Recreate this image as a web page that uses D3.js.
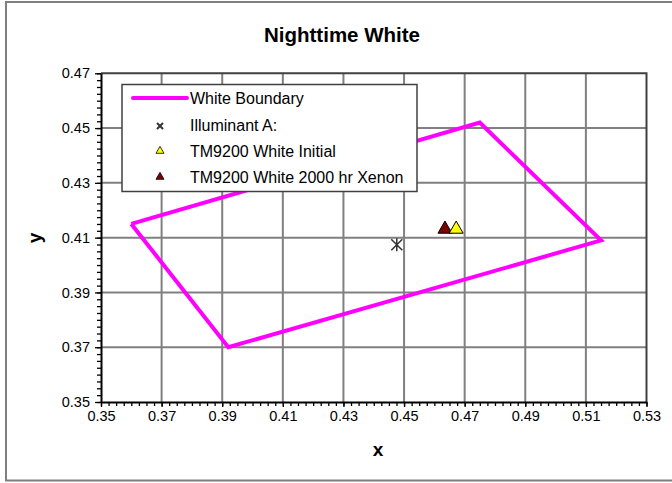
<!DOCTYPE html>
<html>
<head>
<meta charset="utf-8">
<script src="https://cdn.jsdelivr.net/npm/d3@7"></script>
<style>
    body { margin: 0; background: #fff; }
    text { font-family: "Liberation Sans", Arial, sans-serif; }
    .title, .axisTitle { font-weight: bold; }
</style>
</head>
<body>
<div id="chart"></div>
<script>
// boundary polygon (closed)
const boundaryX = [0.360, 0.475, 0.515, 0.392, 0.360];
const boundaryY = [0.415, 0.452, 0.409, 0.370, 0.415];

const illuminantX = [0.4476];
const illuminantY = [0.4074];

const initialX = [0.4672];
const initialY = [0.4131];

const xenonX = [0.4635];
const xenonY = [0.4131];

const xTicks = [0.35, 0.37, 0.39, 0.41, 0.43, 0.45, 0.47, 0.49, 0.51, 0.53];
const yTicks = [0.35, 0.37, 0.39, 0.41, 0.43, 0.45, 0.47];

const legendLabels = ['White Boundary', 'Illuminant A:', 'TM9200 White Initial', 'TM9200 White 2000 hr Xenon'];

var width = 672, height = 483;
var plotL = 101, plotR = 646.5, plotT = 73.3, plotB = 402;

var svg = d3.select('#chart').append('svg')
    .attr('width', width)
    .attr('height', height);

// outer frame
svg.append('rect')
    .attr('x', 6).attr('y', 2)
    .attr('width', 670).attr('height', 478.5)
    .attr('fill', 'none')
    .attr('stroke', '#7f7f7f')
    .attr('stroke-width', 2);

var x = d3.scaleLinear().domain([0.35, 0.53]).range([plotL, plotR]);
var y = d3.scaleLinear().domain([0.35, 0.47]).range([plotB, plotT]);

// gridlines
svg.append('g').selectAll('line').data(xTicks.slice(1, -1)).join('line')
    .attr('x1', d => x(d)).attr('x2', d => x(d))
    .attr('y1', plotT).attr('y2', plotB)
    .attr('stroke', '#808080').attr('stroke-width', 2);
svg.append('g').selectAll('line').data(yTicks.slice(1, -1)).join('line')
    .attr('x1', plotL).attr('x2', plotR)
    .attr('y1', d => y(d)).attr('y2', d => y(d))
    .attr('stroke', '#808080').attr('stroke-width', 2);

// plot border top/right
svg.append('path')
    .attr('d', `M${plotL},${plotT}H${plotR}V${plotB}`)
    .attr('fill', 'none')
    .attr('stroke', '#404040')
    .attr('stroke-width', 2);

// minor ticks every 0.0025
var minorX = d3.range(0, 73).map(i => 0.35 + i * 0.0025);
var minorY = d3.range(0, 49).map(i => 0.35 + i * 0.0025);

var xAxis = svg.append('g').attr('transform', `translate(0,${plotB})`);
xAxis.call(d3.axisBottom(x).tickValues(minorX).tickSize(4).tickFormat(''));
xAxis.call(g => g.selectAll('path').remove());
var xMajor = svg.append('g').attr('transform', `translate(0,${plotB})`)
    .call(d3.axisBottom(x).tickValues(xTicks).tickSize(5).tickSizeOuter(0).tickPadding(4).tickFormat(d3.format('.2f')));
xMajor.selectAll('text').attr('font-size', 14.5).attr('fill', '#000')
    .style('font-family', '"Liberation Sans", Arial, sans-serif');

var yAxis = svg.append('g').attr('transform', `translate(${plotL},0)`);
yAxis.call(d3.axisLeft(y).tickValues(minorY).tickSize(4).tickFormat(''));
yAxis.call(g => g.selectAll('path').remove());
var yMajor = svg.append('g').attr('transform', `translate(${plotL},0)`)
    .call(d3.axisLeft(y).tickValues(yTicks).tickSize(6).tickSizeOuter(0).tickPadding(5).tickFormat(d3.format('.2f')));
yMajor.selectAll('text').attr('font-size', 14.5).attr('fill', '#000')
    .style('font-family', '"Liberation Sans", Arial, sans-serif');

svg.selectAll('.domain').attr('stroke', '#000').attr('stroke-width', 2);
svg.selectAll('.tick line').attr('stroke', '#000').attr('stroke-width', 1.3);

// boundary polygon
var line = d3.line().x(d => x(d[0])).y(d => y(d[1]));
svg.append('path')
    .datum(boundaryX.map((v, i) => [v, boundaryY[i]]))
    .attr('d', line)
    .attr('fill', 'none')
    .attr('stroke', '#ff00ff')
    .attr('stroke-width', 4)
    .attr('stroke-linejoin', 'miter');

// markers
function drawStar(g, cx, cy, r) {
    g.append('path')
        .attr('d', `M${cx - r},${cy - r}L${cx + r},${cy + r}M${cx - r},${cy + r}L${cx + r},${cy - r}M${cx},${cy - r * 1.2}V${cy + r * 1.2}`)
        .attr('stroke', '#333')
        .attr('stroke-width', 1.5)
        .attr('fill', 'none');
}
function drawCross(g, cx, cy, r) {
    g.append('path')
        .attr('d', `M${cx - r},${cy - r}L${cx + r},${cy + r}M${cx - r},${cy + r}L${cx + r},${cy - r}`)
        .attr('stroke', '#333')
        .attr('stroke-width', 2)
        .attr('fill', 'none');
}
var tri = d3.symbol().type(d3.symbolTriangle);

var marks = svg.append('g');
illuminantX.forEach((v, i) => drawStar(marks, x(v), y(illuminantY[i]), 5.5));
xenonX.forEach((v, i) => {
    marks.append('path')
        .attr('d', tri.size(85)())
        .attr('transform', `translate(${x(v)},${y(xenonY[i])})`)
        .attr('fill', '#800000').attr('stroke', '#000').attr('stroke-width', 1);
});
initialX.forEach((v, i) => {
    marks.append('path')
        .attr('d', tri.size(85)())
        .attr('transform', `translate(${x(v)},${y(initialY[i])})`)
        .attr('fill', '#ffff00').attr('stroke', '#000').attr('stroke-width', 1);
});

// legend
var legend = svg.append('g');
legend.append('rect')
    .attr('x', 122).attr('y', 84.5)
    .attr('width', 295).attr('height', 107)
    .attr('fill', '#fff')
    .attr('stroke', '#404040')
    .attr('stroke-width', 1.5);

var rowY = [98, 125, 151, 177];
legend.append('line')
    .attr('x1', 133).attr('x2', 187)
    .attr('y1', rowY[0]).attr('y2', rowY[0])
    .attr('stroke', '#ff00ff').attr('stroke-width', 4).attr('stroke-linecap', 'round');
drawCross(legend, 160, rowY[1] + 1, 3);
legend.append('path').attr('d', tri.size(28)())
    .attr('transform', `translate(160,${rowY[2]})`)
    .attr('fill', '#ffff00').attr('stroke', '#000').attr('stroke-width', 0.8);
legend.append('path').attr('d', tri.size(28)())
    .attr('transform', `translate(160,${rowY[3]})`)
    .attr('fill', '#800000').attr('stroke', '#000').attr('stroke-width', 0.8);

legend.selectAll('text.leg').data(legendLabels).join('text')
    .attr('class', 'leg')
    .attr('x', 190)
    .attr('y', (d, i) => rowY[i])
    .attr('dy', '0.35em')
    .attr('font-size', 16)
    .text(d => d);

// titles
svg.append('text').attr('class', 'title')
    .attr('x', 342).attr('y', 42)
    .attr('text-anchor', 'middle')
    .attr('font-size', 20.5)
    .text('Nighttime White');
svg.append('text').attr('class', 'axisTitle')
    .attr('x', 378).attr('y', 456)
    .attr('text-anchor', 'middle')
    .attr('font-size', 19)
    .text('x');
svg.append('text').attr('class', 'axisTitle')
    .attr('transform', 'translate(41,238) rotate(-90)')
    .attr('text-anchor', 'middle')
    .attr('font-size', 19)
    .text('y');
</script>
</body>
</html>
